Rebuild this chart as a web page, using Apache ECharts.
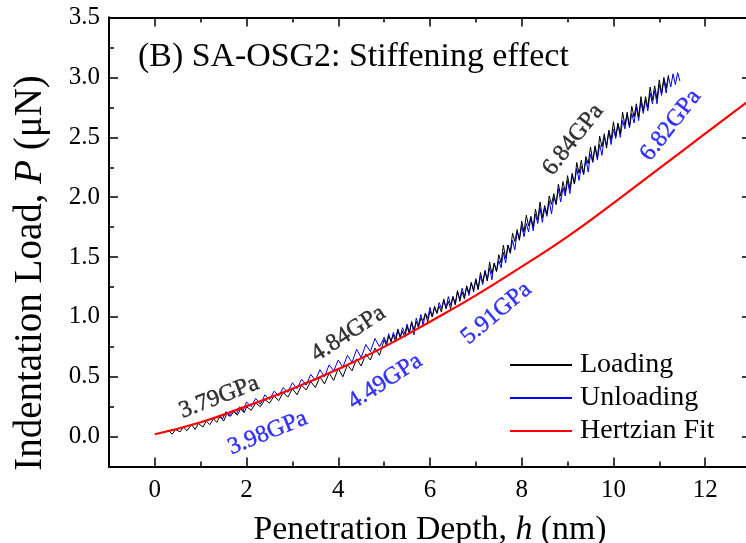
<!DOCTYPE html>
<html><head><meta charset="utf-8">
<script src="https://cdn.jsdelivr.net/npm/echarts@6/dist/echarts.min.js"></script>
<style>html,body{margin:0;padding:0;background:#fff}#c{width:746px;height:543px}</style>
</head><body><div id="c"></div>
<script>
// ---- data ----
const xTickLabels = [0, 2, 4, 6, 8, 10, 12];
const yTickLabels = [0.0, 0.5, 1.0, 1.5, 2.0, 2.5, 3.0, 3.5];
const seriesNames = ['Loading', 'Unloading', 'Hertzian Fit'];

const loading = [
[0.20,0.04],[0.30,0.05],[0.38,0.02],[0.45,0.06],[0.55,0.04],[0.62,0.08],[0.70,0.05],[0.80,0.10],[0.88,0.06],[0.95,0.11],
[1.05,0.08],[1.12,0.13],[1.20,0.10],[1.28,0.15],[1.35,0.12],[1.42,0.17],[1.50,0.13],[1.58,0.20],[1.65,0.17],[1.72,0.21],
[1.80,0.18],[1.88,0.24],[1.95,0.20],
[2.0,0.25],[2.1,0.22],[2.2,0.28],[2.3,0.25],[2.4,0.31],[2.5,0.28],[2.6,0.34],[2.7,0.30],[2.8,0.37],[2.9,0.33],
[3.0,0.40],[3.1,0.35],[3.2,0.43],[3.3,0.39],[3.4,0.46],[3.5,0.41],[3.6,0.50],[3.7,0.44],[3.8,0.53],[3.9,0.47],
[4.0,0.57],[4.1,0.50],[4.2,0.60],[4.3,0.55],[4.4,0.65],[4.5,0.59],[4.6,0.69],[4.7,0.64],[4.8,0.74],[4.9,0.68],
[5.00,0.81],[5.05,0.76],[5.10,0.84],[5.15,0.80],[5.20,0.85],[5.25,0.79],[5.30,0.89],[5.35,0.83],[5.40,0.88],[5.45,0.83],
[5.50,0.92],[5.55,0.86],[5.60,0.96],[5.65,0.89],[5.70,0.96],[5.75,0.91],[5.80,0.99],[5.85,0.97],[5.90,1.03],[5.95,0.96],
[6.00,1.05],[6.05,1.00],[6.10,1.09],[6.15,1.03],[6.20,1.09],[6.25,1.04],[6.30,1.15],[6.35,1.07],[6.40,1.13],[6.45,1.07],
[6.50,1.17],[6.55,1.11],[6.60,1.22],[6.65,1.13],[6.70,1.21],[6.75,1.15],[6.80,1.26],[6.85,1.20],[6.90,1.29],[6.95,1.21],
[7.00,1.31],[7.05,1.23],[7.10,1.37],[7.15,1.29],[7.20,1.38],[7.25,1.30],[7.30,1.46],[7.35,1.36],[7.40,1.45],[7.45,1.38],
[7.50,1.52],[7.55,1.45],[7.60,1.60],[7.65,1.49],[7.70,1.60],[7.75,1.54],[7.80,1.70],[7.85,1.63],[7.90,1.73],[7.95,1.64],
[8.00,1.80],[8.05,1.71],[8.10,1.85],[8.15,1.76],[8.20,1.84],[8.25,1.75],[8.30,1.90],[8.35,1.81],[8.40,1.96],[8.45,1.83],
[8.50,1.93],[8.55,1.86],[8.60,2.01],[8.65,1.94],[8.70,2.03],[8.75,1.94],[8.80,2.11],[8.85,2.01],[8.90,2.13],[8.95,2.04],
[9.00,2.18],[9.05,2.07],[9.10,2.20],[9.15,2.11],[9.20,2.29],[9.25,2.20],[9.30,2.31],[9.35,2.19],[9.40,2.34],[9.45,2.28],
[9.50,2.42],[9.55,2.30],[9.60,2.43],[9.65,2.33],[9.70,2.51],[9.75,2.42],[9.80,2.53],[9.85,2.41],[9.90,2.56],[9.95,2.48],
[10.00,2.63],[10.05,2.51],[10.10,2.62],[10.15,2.53],[10.20,2.71],[10.25,2.60],[10.30,2.71],[10.35,2.59],[10.40,2.76],[10.45,2.67],
[10.50,2.78],[10.55,2.67],[10.60,2.84],[10.65,2.72],[10.70,2.84],[10.75,2.75],[10.80,2.92],[10.85,2.81],[10.90,2.93],[10.95,2.82],
[11.00,2.98],[11.05,2.87],[11.10,3.00],[11.15,2.91],[11.20,3.02]
];

const unloading = [
[1.40,0.17],[1.48,0.15],[1.55,0.21],[1.62,0.17],[1.70,0.22],[1.78,0.19],[1.85,0.25],[1.92,0.21],
[2.0,0.29],[2.1,0.25],[2.2,0.32],[2.3,0.27],[2.4,0.35],[2.5,0.31],[2.6,0.38],[2.7,0.34],[2.8,0.41],[2.9,0.37],
[3.0,0.45],[3.1,0.40],[3.2,0.48],[3.3,0.43],[3.4,0.52],[3.5,0.47],[3.6,0.56],[3.7,0.50],[3.8,0.60],[3.9,0.55],
[4.0,0.64],[4.1,0.58],[4.2,0.68],[4.3,0.62],[4.4,0.73],[4.5,0.66],[4.6,0.77],[4.7,0.71],[4.8,0.82],[4.9,0.75],
[5.00,0.83],[5.05,0.78],[5.10,0.86],[5.15,0.79],[5.20,0.87],[5.25,0.82],[5.30,0.90],[5.35,0.83],[5.40,0.91],[5.45,0.86],
[5.50,0.94],[5.55,0.87],[5.60,0.96],[5.65,0.85],[5.70,0.99],[5.75,0.93],[5.80,1.02],[5.85,0.93],[5.90,1.03],[5.95,0.99],
[6.00,1.08],[6.05,1.00],[6.10,1.08],[6.15,1.03],[6.20,1.12],[6.25,1.07],[6.30,1.14],[6.35,1.07],[6.40,1.17],[6.45,1.10],
[6.50,1.17],[6.55,1.10],[6.60,1.21],[6.65,1.15],[6.70,1.24],[6.75,1.17],[6.80,1.25],[6.85,1.18],[6.90,1.28],[6.95,1.23],
[7.00,1.32],[7.05,1.23],[7.10,1.34],[7.15,1.27],[7.20,1.39],[7.25,1.31],[7.30,1.41],[7.35,1.31],[7.40,1.45],[7.45,1.38],
[7.50,1.47],[7.55,1.41],[7.60,1.54],[7.65,1.45],[7.70,1.60],[7.75,1.53],[7.80,1.64],[7.85,1.56],[7.90,1.71],[7.95,1.65],
[8.00,1.76],[8.05,1.67],[8.10,1.78],[8.15,1.71],[8.20,1.83],[8.25,1.72],[8.30,1.86],[8.35,1.78],[8.40,1.91],[8.45,1.79],
[8.50,1.91],[8.55,1.84],[8.60,1.97],[8.65,1.86],[8.70,2.00],[8.75,1.94],[8.80,2.07],[8.85,1.96],[8.90,2.08],[8.95,2.01],
[9.00,2.14],[9.05,2.03],[9.10,2.18],[9.15,2.11],[9.20,2.24],[9.25,2.14],[9.30,2.26],[9.35,2.19],[9.40,2.32],[9.45,2.21],
[9.50,2.36],[9.55,2.29],[9.60,2.42],[9.65,2.31],[9.70,2.44],[9.75,2.35],[9.80,2.50],[9.85,2.43],[9.90,2.55],[9.95,2.44],
[10.00,2.57],[10.05,2.49],[10.10,2.61],[10.15,2.50],[10.20,2.64],[10.25,2.57],[10.30,2.69],[10.35,2.58],[10.40,2.70],[10.45,2.62],
[10.50,2.75],[10.55,2.64],[10.60,2.80],[10.65,2.70],[10.70,2.81],[10.75,2.72],[10.80,2.87],[10.85,2.78],[10.90,2.89],[10.95,2.78],
[11.00,2.94],[11.05,2.85],[11.10,2.98],[11.15,2.87],[11.20,3.01],[11.25,2.92],[11.30,3.03],[11.35,2.94],[11.40,3.04],[11.45,2.97]
];

const hertzH = [0, 1, 2, 3, 4, 5, 6, 7, 8, 9, 10, 11, 12, 13];
const hertzP = [0.02, 0.12, 0.255, 0.40, 0.565, 0.75, 0.96, 1.18, 1.42, 1.67, 1.95, 2.24, 2.53, 2.82];

const noteText = ['3.79GPa', '3.98GPa', '4.84GPa', '4.49GPa', '5.91GPa', '6.84GPa', '6.82GPa'];
const noteH = [1.40, 2.46, 4.22, 5.02, 7.45, 9.12, 11.25];
const noteP = [0.33, 0.03, 0.86, 0.46, 1.03, 2.48, 2.60];

const yTitle = ['Indentation Load, ', 'P', ' (μN)'];
const xTitle = ['Penetration Depth, ', 'h', ' (nm)'];
const chartTitle = '(B) SA-OSG2: Stiffening effect';

// ---- styles ----
const noteRotate = [21, 22, 33, 33, 40, 52, 52];
const noteColor = ['#000', '#0000ff', '#000', '#0000ff', '#0000ff', '#000', '#0000ff'];
const FONT = '"Liberation Serif", "Times New Roman", serif';

const chart = echarts.init(document.getElementById('c'), null, {renderer: 'canvas'});

function xAxisDef(pos, major, labels) {
  const a = {
    type: 'value', position: pos, min: -1, max: 13,
    axisLine: {show: true, onZero: false, lineStyle: {color: '#000', width: 2}},
    axisTick: {show: true, inside: true, length: major ? 9 : 5, lineStyle: {color: '#000', width: 1.5}},
    splitLine: {show: false},
    axisLabel: {show: false}
  };
  if (major) { a.minInterval = 2; a.maxInterval = 2; } else { a.interval = 1; }
  if (labels) {
    a.axisLabel = {show: true, margin: 11, color: '#000', fontFamily: FONT, fontSize: 25,
      formatter: v => xTickLabels.indexOf(v) >= 0 ? String(v) : ''};
    a.name = '{n|' + xTitle[0] + '}{i|' + xTitle[1] + '}{n|' + xTitle[2] + '}';
    a.nameLocation = 'middle';
    a.nameGap = 47;
    a.nameTextStyle = {rich: {
      n: {fontFamily: FONT, fontSize: 33.8, color: '#000'},
      i: {fontFamily: FONT, fontSize: 33.8, color: '#000', fontStyle: 'italic'}}};
  }
  return a;
}
function yAxisDef(pos, major, labels) {
  const a = {
    type: 'value', position: pos, min: -0.25, max: 3.5,
    axisLine: {show: true, onZero: false, lineStyle: {color: '#000', width: 2}},
    axisTick: {show: true, inside: true, length: major ? 9 : 5, lineStyle: {color: '#000', width: 1.5}},
    splitLine: {show: false},
    axisLabel: {show: false}
  };
  if (major) { a.minInterval = 0.5; a.maxInterval = 0.5; } else { a.interval = 0.25; }
  if (labels) {
    a.axisLabel = {show: true, margin: 9, color: '#000', fontFamily: FONT, fontSize: 25,
      formatter: v => yTickLabels.some(t => Math.abs(t - v) < 1e-9) ? v.toFixed(1) : ''};
  }
  return a;
}

const option = {
  animation: false,
  backgroundColor: '#fff',
  grid: {left: 109, right: -5, top: 17.6, bottom: 76.4, containLabel: false, outerBoundsMode: 'none'},
  title: {
    text: chartTitle,
    left: 133, top: 35,
    textStyle: {fontFamily: FONT, fontSize: 33.9, fontWeight: 'normal', color: '#000'}
  },
  graphic: [{
    type: 'text', x: 31, y: 273, rotation: Math.PI / 2,
    style: {
      text: '{n|' + yTitle[0] + '}{i|' + yTitle[1] + '}{n|' + yTitle[2] + '}',
      align: 'center', verticalAlign: 'middle',
      rich: {
        n: {fontFamily: FONT, fontSize: 39, fill: '#000'},
        i: {fontFamily: FONT, fontSize: 39, fill: '#000', fontStyle: 'italic'}
      }
    }
  }],
  legend: {
    data: seriesNames,
    orient: 'vertical', left: 505, top: 346,
    icon: 'rect', itemWidth: 62, itemHeight: 2, itemGap: 5,
    textStyle: {fontFamily: FONT, fontSize: 28, color: '#000', padding: [0, 0, 0, 3]},
    selectedMode: false
  },
  xAxis: [xAxisDef('bottom', false, false), xAxisDef('bottom', true, true),
          xAxisDef('top', false, false), xAxisDef('top', true, false)],
  yAxis: [yAxisDef('left', false, false), yAxisDef('left', true, true),
          yAxisDef('right', false, false), yAxisDef('right', true, false)],
  series: [
    {name: 'Unloading', type: 'line', data: unloading, symbol: 'none',
     lineStyle: {color: '#0000ff', width: 1}, itemStyle: {color: '#0000ff'}, z: 2},
    {name: 'Loading', type: 'line', data: loading, symbol: 'none',
     lineStyle: {color: '#000', width: 1}, itemStyle: {color: '#000'}, z: 3},
    {name: 'Hertzian Fit', type: 'line', data: hertzH.map((h, i) => [h, hertzP[i]]), symbol: 'none', smooth: true,
     lineStyle: {color: '#ff0000', width: 2.2}, itemStyle: {color: '#ff0000'}, z: 4},
    {name: 'notes', type: 'scatter', symbolSize: 0, z: 5, silent: true,
     data: noteText.map((t, i) => ({
       value: [noteH[i], noteP[i]],
       label: {show: true, position: 'inside', formatter: t, rotate: noteRotate[i],
               color: noteColor[i], fontFamily: FONT, fontSize: 24,
               textBorderColor: noteColor[i], textBorderWidth: 0.4}
     }))}
  ]
};
chart.setOption(option);
</script>
</body></html>
